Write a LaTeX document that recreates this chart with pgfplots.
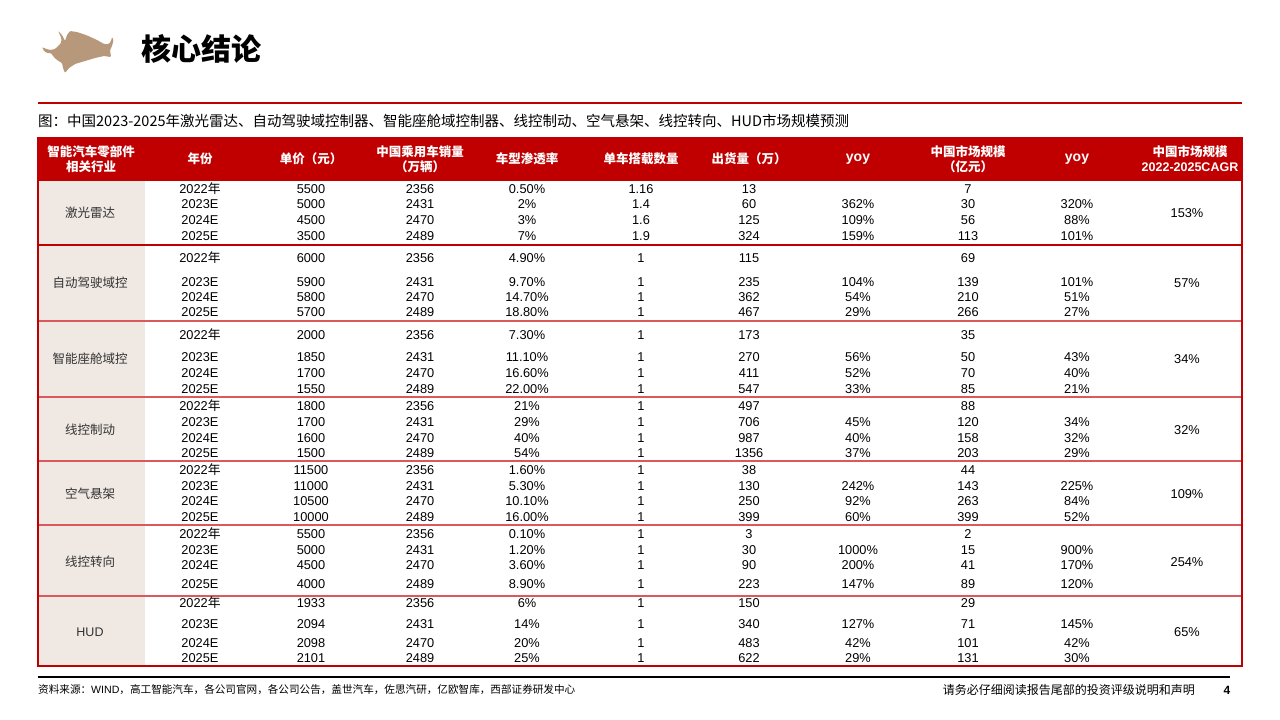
\documentclass[border=0pt]{standalone}
\usepackage{pgfplots}
\pgfplotsset{compat=1.18}
\usepackage{pgfplotstable}
\usepackage{fontspec}
\setmainfont{Liberation Sans}
\newfontfamily\cjk{Noto Sans CJK SC}
\newfontfamily\ari{Liberation Sans}
\newcommand\nian{{\cjk 年}}
\newcommand\E{}
\newcommand\HUD{{\ari HUD}}
\definecolor{hdr}{HTML}{C00000}
\definecolor{sep}{HTML}{D9595C}
\definecolor{beige}{HTML}{F0E8E2}
\definecolor{bull}{HTML}{B8987A}

\pgfplotstableread[col sep=comma]{
y,year,price,sales,pen,per,ship,yoyA,mkt,yoyB
189,2022\nian,5500,2356,0.50\%,1.16,13,\E,7,\E
204,2023E,5000,2431,2\%,1.4,60,362\%,30,320\%
220,2024E,4500,2470,3\%,1.6,125,109\%,56,88\%
236,2025E,3500,2489,7\%,1.9,324,159\%,113,101\%
258,2022\nian,6000,2356,4.90\%,1,115,\E,69,\E
282,2023E,5900,2431,9.70\%,1,235,104\%,139,101\%
297,2024E,5800,2470,14.70\%,1,362,54\%,210,51\%
312,2025E,5700,2489,18.80\%,1,467,29\%,266,27\%
335,2022\nian,2000,2356,7.30\%,1,173,\E,35,\E
357,2023E,1850,2431,11.10\%,1,270,56\%,50,43\%
373,2024E,1700,2470,16.60\%,1,411,52\%,70,40\%
389,2025E,1550,2489,22.00\%,1,547,33\%,85,21\%
406,2022\nian,1800,2356,21\%,1,497,\E,88,\E
422,2023E,1700,2431,29\%,1,706,45\%,120,34\%
438,2024E,1600,2470,40\%,1,987,40\%,158,32\%
453,2025E,1500,2489,54\%,1,1356,37\%,203,29\%
470,2022\nian,11500,2356,1.60\%,1,38,\E,44,\E
486,2023E,11000,2431,5.30\%,1,130,242\%,143,225\%
501,2024E,10500,2470,10.10\%,1,250,92\%,263,84\%
517,2025E,10000,2489,16.00\%,1,399,60\%,399,52\%
534,2022\nian,5500,2356,0.10\%,1,3,\E,2,\E
550,2023E,5000,2431,1.20\%,1,30,1000\%,15,900\%
565,2024E,4500,2470,3.60\%,1,90,200\%,41,170\%
584,2025E,4000,2489,8.90\%,1,223,147\%,89,120\%
603,2022\nian,1933,2356,6\%,1,150,\E,29,\E
624,2023E,2094,2431,14\%,1,340,127\%,71,145\%
643,2024E,2098,2470,20\%,1,483,42\%,101,42\%
658,2025E,2101,2489,25\%,1,622,29\%,131,30\%
}\datatable

\pgfplotstableread[col sep=comma]{
y,label,cagr
213,激光雷达,153\%
283,自动驾驶域控,57\%
359,智能座舱域控,34\%
430,线控制动,32\%
494,空气悬架,109\%
562,线控转向,254\%
632,\HUD,65\%
}\grptable

\pgfplotsset{
  cell/.style={only marks, mark=none, nodes near coords,
    point meta=explicit symbolic,
    every node near coord/.append style={anchor=center, inner sep=0pt,
      font=\fontsize{12.8}{14}\selectfont, text=black}},
}

\begin{document}
\begin{tikzpicture}
\begin{axis}[width=1280pt, height=720pt, scale only axis,
  xmin=0, xmax=1280, ymin=0, ymax=720, y dir=reverse,
  hide axis, clip=false]
% page background
\fill[white] (axis cs:0,0) rectangle (axis cs:1280,720);
% logo (bull)
\fill[bull, rounded corners=1pt] (axis cs:58,31) -- (axis cs:62,35) -- (axis cs:65,41) -- (axis cs:67,35) -- (axis cs:70,31)
  -- (axis cs:77,32) -- (axis cs:86,35) -- (axis cs:97,40) -- (axis cs:104,44) -- (axis cs:109,44) -- (axis cs:111,41)
  -- (axis cs:112,37) -- (axis cs:113.5,40) -- (axis cs:112,46) -- (axis cs:110,50) -- (axis cs:111,57) -- (axis cs:104,56)
  -- (axis cs:95,58) -- (axis cs:85,61) -- (axis cs:75,64) -- (axis cs:69,68) -- (axis cs:65,73) -- (axis cs:63,68)
  -- (axis cs:62,63) -- (axis cs:57,60) -- (axis cs:53,56) -- (axis cs:51,53) -- (axis cs:47,53) -- (axis cs:44,51)
  -- (axis cs:42,47) -- (axis cs:45,48.5) -- (axis cs:50,50) -- (axis cs:55,49) -- (axis cs:58,46) -- (axis cs:61,43)
  -- (axis cs:61.5,39) -- (axis cs:60,35) -- cycle;
% title
\node[anchor=west, inner sep=0pt, font=\cjk\bfseries\fontsize{30}{31}\selectfont] at (axis cs:141,49) {核心结论};
\draw[hdr, line width=2.2pt] (axis cs:38,103) -- (axis cs:1242,103);
\node[anchor=west, inner sep=0pt, font=\cjk\fontsize{14.5}{15}\selectfont] at (axis cs:38,121)
  {图：中国2023-2025年激光雷达、自动驾驶域控制器、智能座舱域控制器、线控制动、空气悬架、线控转向、HUD市场规模预测};
% table backgrounds
\fill[hdr] (axis cs:38,137) rectangle (axis cs:1242,181);
\fill[beige] (axis cs:38,181) rectangle (axis cs:145,666);
% header texts
\begin{scope}[every node/.style={text=white, align=center, inner sep=0pt, font=\cjk\bfseries\fontsize{12.5}{15}\selectfont}]
\node at (axis cs:91,159) {智能汽车零部件\\相关行业};
\node at (axis cs:200,159) {年份};
\node at (axis cs:311,159) {单价（元）};
\node at (axis cs:420,159) {中国乘用车销量\\（万辆）};
\node at (axis cs:527,159) {车型渗透率};
\node at (axis cs:641,159) {单车搭载数量};
\node at (axis cs:749,159) {出货量（万）};
\node[font=\ari\bfseries\fontsize{14}{15}\selectfont] at (axis cs:858,159) {yoy};
\node at (axis cs:968,159) {中国市场规模\\（亿元）};
\node[font=\ari\bfseries\fontsize{14}{15}\selectfont] at (axis cs:1077,159) {yoy};
\node at (axis cs:1190,159) {中国市场规模\\{\ari\bfseries 2022-2025CAGR}};
\end{scope}
% separators
\draw[hdr, line width=1.2pt] (axis cs:38,245) -- (axis cs:1242,245);
\draw[sep, line width=1.8pt] (axis cs:38,321) -- (axis cs:1242,321);
\draw[sep, line width=1.8pt] (axis cs:38,397) -- (axis cs:1242,397);
\draw[sep, line width=1.8pt] (axis cs:38,461) -- (axis cs:1242,461);
\draw[sep, line width=1.8pt] (axis cs:38,525) -- (axis cs:1242,525);
\draw[sep, line width=1.8pt] (axis cs:38,596) -- (axis cs:1242,596);
\draw[hdr, line width=1.3pt] (axis cs:38,137) -- (axis cs:38,666) -- (axis cs:1242,666) -- (axis cs:1242,137);
% data cells
\addplot[cell] table[x expr=200, y=y, meta=year] {\datatable};
\addplot[cell] table[x expr=311, y=y, meta=price] {\datatable};
\addplot[cell] table[x expr=420, y=y, meta=sales] {\datatable};
\addplot[cell] table[x expr=527, y=y, meta=pen] {\datatable};
\addplot[cell] table[x expr=641, y=y, meta=per] {\datatable};
\addplot[cell] table[x expr=749, y=y, meta=ship] {\datatable};
\addplot[cell] table[x expr=858, y=y, meta=yoyA] {\datatable};
\addplot[cell] table[x expr=968, y=y, meta=mkt] {\datatable};
\addplot[cell] table[x expr=1077, y=y, meta=yoyB] {\datatable};
\addplot[cell, every node near coord/.append style={font=\cjk\fontsize{12.5}{14}\selectfont, text=black!80}]
  table[x expr=90, y=y, meta=label] {\grptable};
\addplot[cell] table[x expr=1187, y=y, meta=cagr] {\grptable};
% footer
\draw[black, line width=1.3pt] (axis cs:38,677) -- (axis cs:1230,677);
\node[anchor=west, inner sep=0pt, font=\cjk\fontsize{10.6}{12}\selectfont] at (axis cs:38,690)
  {资料来源：{\ari WIND}，高工智能汽车，各公司官网，各公司公告，盖世汽车，佐思汽研，亿欧智库，西部证券研发中心};
\node[anchor=east, inner sep=0pt, font=\cjk\fontsize{12}{12}\selectfont] at (axis cs:1195,690)
  {请务必仔细阅读报告尾部的投资评级说明和声明};
\node[inner sep=0pt, font=\ari\bfseries\fontsize{12}{12}\selectfont] at (axis cs:1227,690) {4};
\end{axis}
\end{tikzpicture}
\end{document}
